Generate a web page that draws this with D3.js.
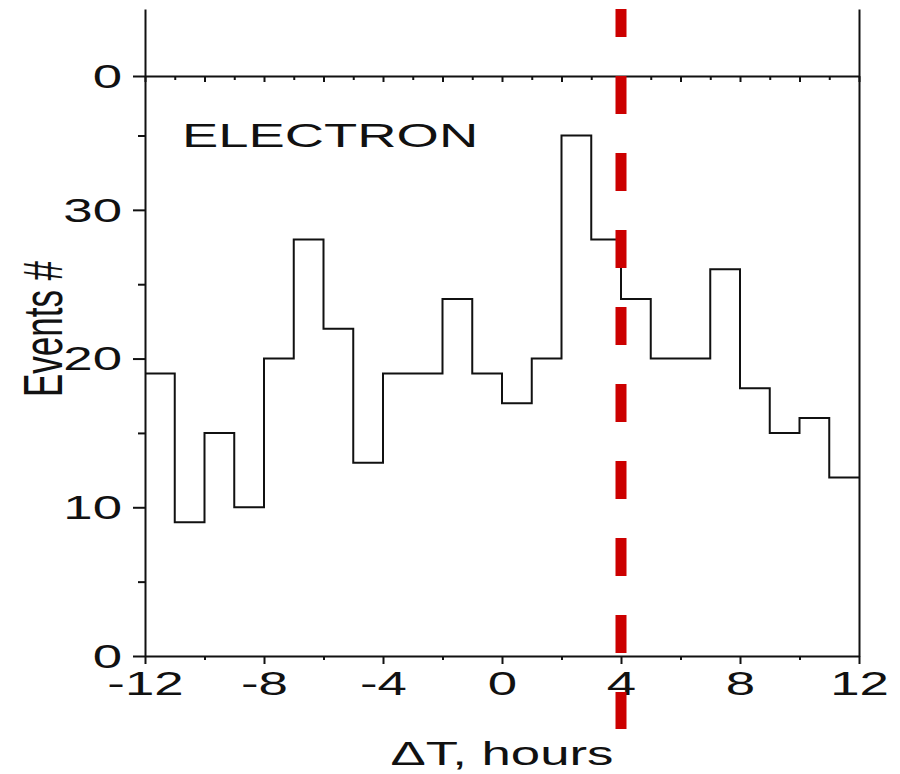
<!DOCTYPE html>
<html>
<head>
<meta charset="utf-8">
<script src="https://cdn.jsdelivr.net/npm/d3@7"></script>
<style>
  body { margin: 0; background: #fff; }
  svg text { font-family: "Liberation Sans", Arial, sans-serif; fill: #111; }
</style>
</head>
<body>
<svg id="chart" width="900" height="774"></svg>
<script>
// histogram bins (1 hour wide) and counts
var binStarts = [-12, -11, -10, -9, -8, -7, -6, -5, -4, -3, -2, -1, 0, 1, 2, 3, 4, 5, 6, 7, 8, 9, 10, 11];
var counts = [19, 9, 15, 10, 20, 28, 22, 13, 19, 19, 24, 19, 17, 20, 35, 28, 24, 20, 20, 26, 18, 15, 16, 12];

// axis ticks
var xMajorTicks = [-12, -8, -4, 0, 4, 8, 12];
var xMinorTicks = [-10, -6, -2, 2, 6, 10];
var yMajorTicks = [0, 10, 20, 30];
var yMinorTicks = [5, 15, 25, 35];
var topMajorTicks = [-12, -10, -8, -6, -4, -2, 0, 2, 4, 6, 8, 10, 12];
var topMinorTicks = [-11, -9, -7, -5, -3, -1, 1, 3, 5, 7, 9, 11];
var upperTicks = [0];

var markerHour = 4;
var panelLabel = "ELECTRON";
var xTitle = "\u0394T, hours";
var yTitle = "Events #";

var SX = 1.6; // the original figure is stretched sideways

var svg = d3.select("#chart");

var x = d3.scaleLinear().domain([-12, 12]).range([145, 859]);
var y = d3.scaleLinear().domain([0, 39]).range([656, 76]);
// panel above, only its zero line survives in the crop
var yUp = d3.scaleLinear().domain([0, 4.5]).range([76, 9]);

function styleAxis(g) {
  g.selectAll("path, line").attr("stroke", "#111").attr("stroke-width", 2);
}

// minor ticks first
svg.append("g")
    .attr("transform", "translate(0," + y(0) + ")")
    .call(d3.axisBottom(x).tickValues(xMinorTicks).tickSize(4).tickSizeOuter(0).tickFormat(""))
    .call(styleAxis)
    .select(".domain").remove();

svg.append("g")
    .attr("transform", "translate(" + x(-12) + ",0)")
    .call(d3.axisLeft(y).tickValues(yMinorTicks).tickSize(7).tickSizeOuter(0).tickFormat(""))
    .call(styleAxis)
    .select(".domain").remove();

svg.append("g")
    .attr("transform", "translate(0," + yUp(0) + ")")
    .call(d3.axisBottom(x).tickValues(topMinorTicks).tickSize(4).tickSizeOuter(0).tickFormat(""))
    .call(styleAxis)
    .select(".domain").remove();

// upper panel x axis (the line at the top of the lower panel)
svg.append("g")
    .attr("transform", "translate(0," + yUp(0) + ")")
    .call(d3.axisBottom(x).tickValues(topMajorTicks).tickSize(6).tickSizeOuter(0).tickFormat(""))
    .call(styleAxis);

// bottom axis
var xAxis = svg.append("g")
    .attr("transform", "translate(0," + y(0) + ")")
    .call(d3.axisBottom(x).tickValues(xMajorTicks).tickSize(8).tickSizeOuter(0).tickFormat(d3.format("d")))
    .call(styleAxis);
xAxis.selectAll(".tick text")
    .attr("y", 0).attr("dy", 0)
    .attr("font-size", 33)
    .attr("text-anchor", "middle")
    .attr("transform", "translate(0,39) scale(" + SX + ",1)")
    .text(function(d) { return d < 0 ? "-" + Math.abs(d) : d; });

// left axis, lower panel
var yAxis = svg.append("g")
    .attr("transform", "translate(" + x(-12) + ",0)")
    .call(d3.axisLeft(y).tickValues(yMajorTicks).tickSize(12).tickSizeOuter(0).tickFormat(d3.format("d")))
    .call(styleAxis);

// left axis, upper panel
var yAxisUp = svg.append("g")
    .attr("transform", "translate(" + x(-12) + ",0)")
    .call(d3.axisLeft(yUp).tickValues(upperTicks).tickSize(12).tickSizeOuter(0).tickFormat(d3.format("d")))
    .call(styleAxis);

[yAxis, yAxisUp].forEach(function(g) {
  g.selectAll(".tick text")
      .attr("x", 0).attr("dy", "0.34em")
      .attr("font-size", 33)
      .attr("text-anchor", "end")
      .attr("transform", "translate(-23,0) scale(" + SX + ",1)");
});

// right frame
svg.append("g")
    .attr("transform", "translate(" + x(12) + ",0)")
    .call(d3.axisRight(y).tickValues([]).tickSizeOuter(0))
    .call(styleAxis);
svg.append("g")
    .attr("transform", "translate(" + x(12) + ",0)")
    .call(d3.axisRight(yUp).tickValues([]).tickSizeOuter(0))
    .call(styleAxis);

// histogram outline
var steps = binStarts.map(function(b, i) { return [b, counts[i]]; });
steps.push([x.domain()[1], counts[counts.length - 1]]);

var line = d3.line()
    .x(function(d) { return x(d[0]); })
    .y(function(d) { return y(d[1]); })
    .curve(d3.curveStepAfter);

svg.append("path")
    .datum(steps)
    .attr("d", line)
    .attr("fill", "none")
    .attr("stroke", "#111")
    .attr("stroke-width", 2);

// red dashed marker
svg.append("line")
    .attr("x1", x(markerHour)).attr("x2", x(markerHour))
    .attr("y1", yUp.range()[1]).attr("y2", y(0) + 73)
    .attr("stroke", "#cc0000")
    .attr("stroke-width", 11)
    .attr("stroke-dasharray", "38 39")
    .attr("stroke-dashoffset", 10);

// labels
svg.append("text")
    .attr("transform", "translate(182,147) scale(" + SX + ",1)")
    .attr("font-size", 34)
    .text(panelLabel);

svg.append("text")
    .attr("transform", "translate(" + d3.mean(x.range()) + ",765) scale(" + SX + ",1)")
    .attr("text-anchor", "middle")
    .attr("font-size", 33)
    .text(xTitle);

svg.append("text")
    .attr("transform", "translate(62,329) scale(" + SX + ",1) rotate(-90)")
    .attr("text-anchor", "middle")
    .attr("font-size", 35)
    .text(yTitle);
</script>
</body>
</html>
